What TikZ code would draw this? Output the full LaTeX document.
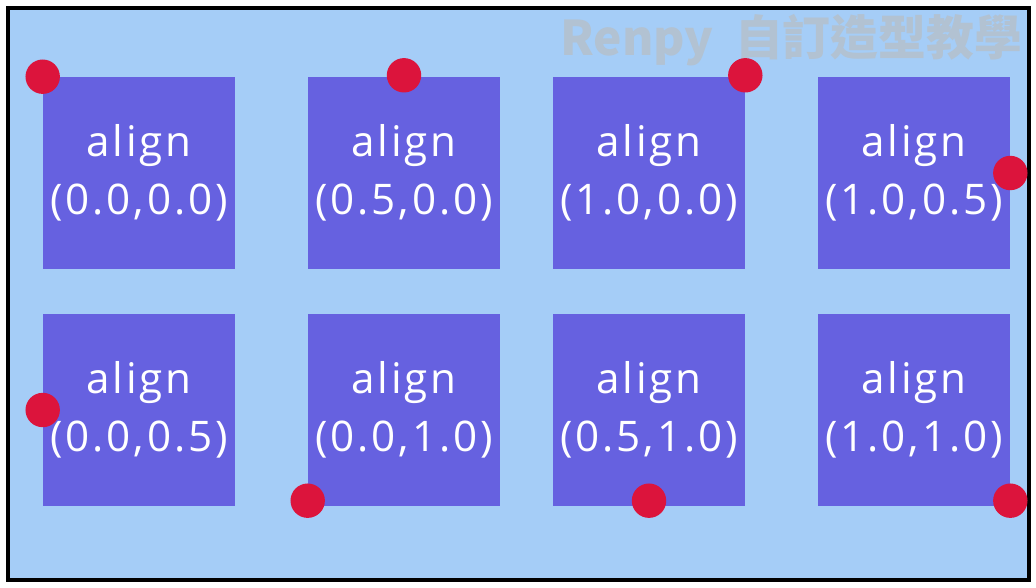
\documentclass[tikz,border=0pt]{standalone}
\usepackage{fontspec}
\usepackage{xcolor}
\usepackage{tikz}
\newfontfamily\cjk{Noto Sans CJK TC}
\newfontfamily\hand[LetterSpace=7]{Open Sans}
\definecolor{bgBlue}{RGB}{165, 205, 247}
\definecolor{boxPurple}{RGB}{102, 97, 224}
\definecolor{dotRed}{RGB}{220, 20, 60}
\definecolor{markGray}{RGB}{178, 194, 210}

\begin{document}
\begin{tikzpicture}[
    x=0.025cm, y=-0.025cm,
    alignbox/.style={fill=boxPurple, minimum size=4.8cm, inner sep=0pt, align=center,
        text=white, font=\hand\fontsize{30}{41}\selectfont},
    anchordot/.style={fill=dotRed},
    watermark/.style={text=markGray, font=\cjk\bfseries\fontsize{34}{40}\selectfont}
]
% page and frame
\fill[white] (0,0) rectangle (1036,587);
\draw[fill=bgBlue, line width=2.2pt] (8,8) rectangle (1029,580);
\node[watermark, anchor=east] (mark) at (1027,40) {Renpy\ \ 自訂造型教學};

% first row
\node[alignbox] (a00) at (139,173) {align\\(0.0,0.0)};
\node[alignbox] (a50) at (404,173) {align\\(0.5,0.0)};
\node[alignbox] (a10) at (649,173) {align\\(1.0,0.0)};
\node[alignbox] (a15) at (914,173) {align\\(1.0,0.5)};

% second row
\node[alignbox] (a05) at (139,410) {align\\(0.0,0.5)};
\node[alignbox] (a01) at (404,410) {align\\(0.0,1.0)};
\node[alignbox] (a51) at (649,410) {align\\(0.5,1.0)};
\node[alignbox] (a11) at (914,410) {align\\(1.0,1.0)};

% anchor points
\fill[anchordot] (a00.north west) circle[radius=0.43cm];
\fill[anchordot] ([yshift=1pt]a50.north) circle[radius=0.43cm];
\fill[anchordot] ([yshift=1pt]a10.north east) circle[radius=0.43cm];
\fill[anchordot] (a15.east) circle[radius=0.43cm];
\fill[anchordot] (a05.west) circle[radius=0.43cm];
\fill[anchordot] ([yshift=4pt]a01.south west) circle[radius=0.43cm];
\fill[anchordot] ([yshift=4pt]a51.south) circle[radius=0.43cm];
\fill[anchordot] ([yshift=4pt]a11.south east) circle[radius=0.43cm];
\end{tikzpicture}
\end{document}
